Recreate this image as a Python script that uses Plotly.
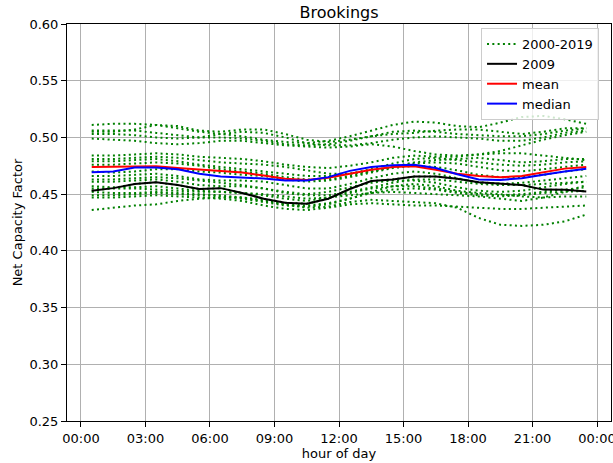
import plotly.graph_objects as go

hours = [h + 0.5 for h in range(24)]
tick_hours = [0, 3, 6, 9, 12, 15, 18, 21, 24]
tick_labels = ["00:00", "03:00", "06:00", "09:00", "12:00", "15:00", "18:00", "21:00", "00:00"]

y2000 = [0.511, 0.512, 0.512, 0.511, 0.508, 0.505, 0.503, 0.501, 0.498, 0.496, 0.495, 0.497, 0.501, 0.506, 0.511, 0.514, 0.513, 0.510, 0.509, 0.513, 0.518, 0.519, 0.516, 0.512]
y2001 = [0.505, 0.505, 0.507, 0.511, 0.510, 0.506, 0.505, 0.507, 0.507, 0.503, 0.498, 0.496, 0.498, 0.501, 0.503, 0.504, 0.506, 0.507, 0.507, 0.505, 0.503, 0.505, 0.508, 0.508]
y2002 = [0.503, 0.503, 0.502, 0.500, 0.499, 0.500, 0.503, 0.505, 0.504, 0.500, 0.495, 0.493, 0.493, 0.495, 0.498, 0.500, 0.501, 0.500, 0.499, 0.497, 0.497, 0.500, 0.504, 0.506]
y2003 = [0.499, 0.498, 0.497, 0.495, 0.494, 0.495, 0.497, 0.497, 0.495, 0.493, 0.492, 0.491, 0.492, 0.494, 0.492, 0.488, 0.485, 0.484, 0.485, 0.488, 0.493, 0.498, 0.502, 0.505]
y2004 = [0.484, 0.484, 0.485, 0.486, 0.485, 0.483, 0.482, 0.481, 0.479, 0.476, 0.474, 0.473, 0.475, 0.478, 0.482, 0.484, 0.483, 0.483, 0.485, 0.486, 0.486, 0.484, 0.482, 0.480]
y2005 = [0.481, 0.481, 0.482, 0.483, 0.482, 0.480, 0.478, 0.477, 0.476, 0.474, 0.471, 0.468, 0.468, 0.470, 0.474, 0.478, 0.480, 0.481, 0.482, 0.480, 0.478, 0.479, 0.481, 0.481]
y2006 = [0.479, 0.479, 0.480, 0.481, 0.479, 0.476, 0.474, 0.472, 0.470, 0.468, 0.466, 0.466, 0.468, 0.472, 0.477, 0.481, 0.482, 0.480, 0.478, 0.476, 0.475, 0.476, 0.478, 0.479]
y2007 = [0.476, 0.476, 0.477, 0.478, 0.477, 0.475, 0.472, 0.470, 0.468, 0.465, 0.463, 0.463, 0.466, 0.470, 0.474, 0.477, 0.478, 0.477, 0.474, 0.471, 0.470, 0.472, 0.474, 0.476]
y2008 = [0.470, 0.469, 0.470, 0.472, 0.472, 0.470, 0.469, 0.467, 0.466, 0.463, 0.461, 0.462, 0.465, 0.469, 0.473, 0.475, 0.474, 0.471, 0.467, 0.465, 0.465, 0.467, 0.470, 0.472]
y2009 = [0.4529, 0.4553, 0.459, 0.4605, 0.458, 0.4545, 0.4553, 0.451, 0.446, 0.4425, 0.4415, 0.446, 0.4545, 0.4615, 0.463, 0.4655, 0.4656, 0.4635, 0.4605, 0.459, 0.458, 0.454, 0.4538, 0.4524]
y2010 = [0.466, 0.466, 0.467, 0.468, 0.466, 0.463, 0.462, 0.462, 0.461, 0.458, 0.455, 0.455, 0.459, 0.464, 0.468, 0.470, 0.468, 0.464, 0.460, 0.459, 0.460, 0.462, 0.464, 0.466]
y2011 = [0.461, 0.461, 0.462, 0.463, 0.461, 0.458, 0.457, 0.457, 0.455, 0.452, 0.450, 0.452, 0.456, 0.460, 0.462, 0.462, 0.460, 0.456, 0.453, 0.452, 0.453, 0.456, 0.459, 0.461]
y2012 = [0.457, 0.456, 0.456, 0.457, 0.455, 0.453, 0.452, 0.451, 0.449, 0.446, 0.444, 0.447, 0.451, 0.455, 0.457, 0.457, 0.455, 0.452, 0.450, 0.449, 0.450, 0.452, 0.454, 0.456]
y2013 = [0.452, 0.451, 0.451, 0.452, 0.451, 0.450, 0.449, 0.447, 0.444, 0.441, 0.440, 0.442, 0.446, 0.451, 0.454, 0.455, 0.454, 0.451, 0.449, 0.448, 0.449, 0.451, 0.452, 0.453]
y2014 = [0.449, 0.449, 0.450, 0.451, 0.450, 0.449, 0.448, 0.446, 0.443, 0.440, 0.439, 0.441, 0.446, 0.452, 0.457, 0.459, 0.457, 0.453, 0.451, 0.450, 0.448, 0.447, 0.448, 0.448]
y2015 = [0.447, 0.447, 0.448, 0.449, 0.448, 0.447, 0.446, 0.444, 0.440, 0.437, 0.436, 0.438, 0.441, 0.442, 0.441, 0.440, 0.440, 0.439, 0.438, 0.437, 0.437, 0.438, 0.439, 0.440]
y2016 = [0.436, 0.438, 0.440, 0.441, 0.444, 0.446, 0.447, 0.447, 0.445, 0.441, 0.438, 0.439, 0.443, 0.445, 0.444, 0.443, 0.442, 0.438, 0.429, 0.423, 0.422, 0.423, 0.426, 0.432]
y2017 = [0.455, 0.455, 0.455, 0.454, 0.453, 0.452, 0.452, 0.451, 0.450, 0.448, 0.446, 0.447, 0.449, 0.451, 0.452, 0.451, 0.450, 0.449, 0.448, 0.446, 0.444, 0.447, 0.452, 0.458]
y2018 = [0.463, 0.463, 0.464, 0.465, 0.464, 0.462, 0.460, 0.458, 0.455, 0.451, 0.449, 0.449, 0.452, 0.456, 0.460, 0.463, 0.463, 0.461, 0.459, 0.458, 0.458, 0.459, 0.460, 0.461]
y2019 = [0.506, 0.506, 0.506, 0.504, 0.502, 0.500, 0.500, 0.499, 0.497, 0.494, 0.493, 0.494, 0.497, 0.501, 0.505, 0.506, 0.505, 0.503, 0.502, 0.501, 0.501, 0.503, 0.506, 0.508]

year_series = [y2000, y2001, y2002, y2003, y2004, y2005, y2006, y2007, y2008, y2009,
               y2010, y2011, y2012, y2013, y2014, y2015, y2016, y2017, y2018, y2019]

highlight_2009 = y2009
mean_vals = [0.474, 0.474, 0.4745, 0.4745, 0.473, 0.4715, 0.470, 0.469, 0.4665, 0.4635, 0.4625, 0.4645, 0.468, 0.4715, 0.474, 0.4745, 0.4715, 0.468, 0.466, 0.4648, 0.466, 0.4695, 0.4725, 0.474]
median_vals = [0.4692, 0.470, 0.4735, 0.4735, 0.472, 0.468, 0.4655, 0.4645, 0.4638, 0.462, 0.462, 0.465, 0.4705, 0.474, 0.4755, 0.476, 0.473, 0.4675, 0.463, 0.4625, 0.464, 0.467, 0.470, 0.4723]

FONT = "DejaVu Sans"
fig = go.Figure()

for i, ys in enumerate(year_series):
    fig.add_trace(go.Scatter(
        x=hours, y=ys, mode="lines", name="2000-2019",
        legendgroup="years", showlegend=(i == 0),
        line=dict(color="#008000", width=2, dash="2px,3.3px"),
    ))

fig.add_trace(go.Scatter(x=hours, y=highlight_2009, mode="lines", name="2009",
                         line=dict(color="black", width=2)))
fig.add_trace(go.Scatter(x=hours, y=mean_vals, mode="lines", name="mean",
                         line=dict(color="red", width=2)))
fig.add_trace(go.Scatter(x=hours, y=median_vals, mode="lines", name="median",
                         line=dict(color="blue", width=2)))

axis_common = dict(
    showline=True, linecolor="black", linewidth=1, mirror=True,
    showgrid=True, gridcolor="#b0b0b0", gridwidth=1,
    ticks="outside", ticklen=5, tickcolor="black", tickwidth=1,
    tickfont=dict(family=FONT, size=13, color="black"),
    zeroline=False, automargin=False, ticklabeloverflow="allow",
)

fig.update_layout(
    width=613, height=463,
    margin=dict(l=67, r=2, t=24, b=42, autoexpand=False),
    paper_bgcolor="white", plot_bgcolor="white",
    font=dict(family=FONT, size=13, color="black"),
    title=dict(text="Brookings", x=0.553, xanchor="center", y=0.974, yanchor="middle",
               font=dict(family=FONT, size=16, color="black")),
    xaxis=dict(range=[-0.65, 24.65], tickvals=tick_hours, ticktext=tick_labels,
               title=dict(text="hour of day", font=dict(family=FONT, size=13), standoff=2),
               **axis_common),
    yaxis=dict(range=[0.25, 0.60], dtick=0.05, tick0=0.25, tickformat=".2f",
               title=dict(text="Net Capacity Factor", font=dict(family=FONT, size=13), standoff=3),
               **axis_common),
    legend=dict(x=0.978, xanchor="right", y=0.99, yanchor="top",
                bgcolor="rgba(255,255,255,0.8)", bordercolor="#cccccc", borderwidth=1,
                font=dict(family=FONT, size=13), tracegroupgap=0, itemwidth=30),
    showlegend=True,
)

fig.write_html("out.html", config={"displayModeBar": False},
               post_script="document.body.style.margin='0';document.body.style.overflow='hidden';")
